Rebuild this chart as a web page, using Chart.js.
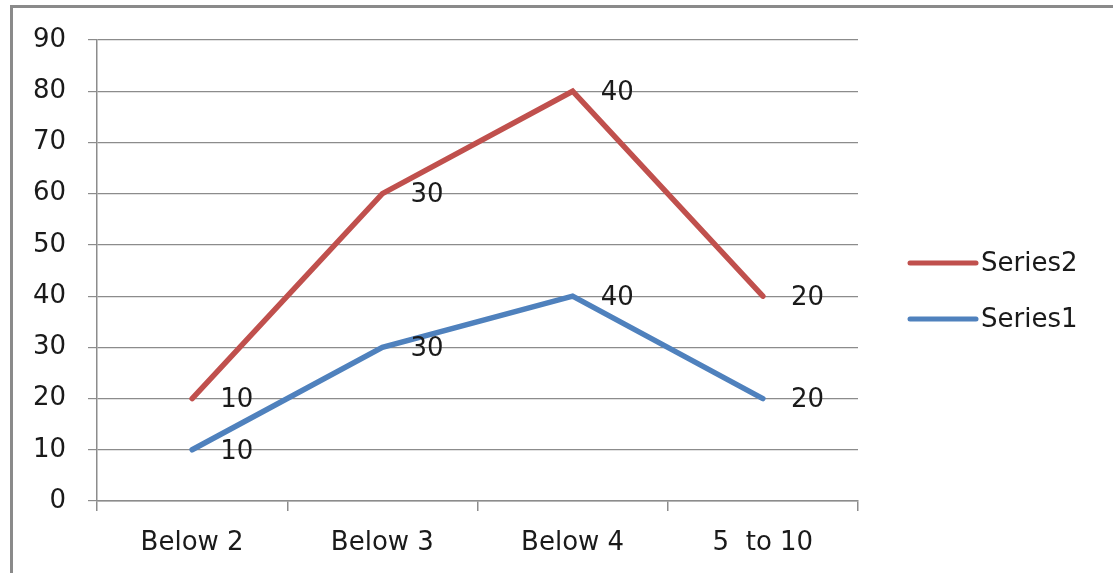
<!DOCTYPE html>
<html>
<head>
<meta charset="utf-8">
<script src="https://cdn.jsdelivr.net/npm/chart.js@4/dist/chart.umd.min.js"></script>
<style>
  html, body { margin: 0; padding: 0; background: #fff; overflow: hidden; }
  #wrap { position: relative; width: 1113px; height: 573px; }
  #frame {
    position: absolute; left: 10px; top: 5px; width: 1100px; height: 600px;
    border-left: 3px solid #8a8a8a; border-top: 3px solid #8a8a8a;
    border-right: 2px solid #d4d4d4; pointer-events: none;
  }
  canvas { position: absolute; left: 0; top: 0; }
</style>
</head>
<body>
<div id="wrap">
  <canvas id="c" width="1113" height="573"></canvas>
  <div id="frame"></div>
</div>
<script>
const categories = ['Below 2', 'Below 3', 'Below 4', '5  to 10'];
const series1 = [10, 30, 40, 20];
const series2 = [10, 30, 40, 20];
const yTicks = [0, 10, 20, 30, 40, 50, 60, 70, 80, 90];

const FONT = 'DejaVu Sans';
const FONT_SIZE = 26;
const GRID = '#8c8c8c';
const TEXT = '#1a1a1a';

// Value labels placed to the right of every point
const pointLabels = {
  id: 'pointLabels',
  afterDatasetsDraw(chart) {
    const ctx = chart.ctx;
    ctx.save();
    ctx.font = FONT_SIZE + 'px "' + FONT + '"';
    ctx.fillStyle = TEXT;
    ctx.textAlign = 'left';
    ctx.textBaseline = 'middle';
    chart.data.datasets.forEach((ds, i) => {
      chart.getDatasetMeta(i).data.forEach((pt, j) => {
        ctx.fillText(String(ds.data[j]), pt.x + 28, pt.y + 2);
      });
    });
    ctx.restore();
  }
};

// Legend on the right: short line sample followed by the series name
const sideLegend = {
  id: 'sideLegend',
  afterDraw(chart) {
    const ctx = chart.ctx;
    const order = [1, 0];
    const rows = [263, 319];
    ctx.save();
    ctx.font = FONT_SIZE + 'px "' + FONT + '"';
    ctx.textAlign = 'left';
    ctx.textBaseline = 'middle';
    order.forEach((idx, r) => {
      const ds = chart.data.datasets[idx];
      const y = rows[r];
      ctx.strokeStyle = ds.borderColor;
      ctx.lineWidth = 5;
      ctx.lineCap = 'round';
      ctx.beginPath();
      ctx.moveTo(910, y);
      ctx.lineTo(976, y);
      ctx.stroke();
      ctx.fillStyle = TEXT;
      ctx.fillText(ds.label, 981, y + 1);
    });
    ctx.restore();
  }
};

new Chart(document.getElementById('c'), {
  type: 'line',
  data: {
    labels: categories,
    datasets: [
      { label: 'Series1', data: series1, borderColor: '#4F81BD', backgroundColor: '#4F81BD' },
      { label: 'Series2', data: series2, borderColor: '#C0504D', backgroundColor: '#C0504D' }
    ]
  },
  options: {
    responsive: false,
    animation: false,
    events: [],
    layout: { padding: { top: 40, right: 255, bottom: 0, left: 0 } },
    elements: {
      line: { borderWidth: 5.5, tension: 0, borderCapStyle: 'round', borderJoinStyle: 'miter', fill: false },
      point: { radius: 0, hoverRadius: 0 }
    },
    plugins: { legend: { display: false }, tooltip: { enabled: false } },
    scales: {
      x: {
        offset: true,
        grid: { offset: true, drawOnChartArea: false, drawTicks: true, tickLength: 10, color: GRID, lineWidth: 1.5 },
        border: { display: true, color: GRID, width: 1.5 },
        ticks: { color: TEXT, font: { family: FONT, size: FONT_SIZE }, padding: 17, maxRotation: 0, autoSkip: false },
        afterFit(s) { s.height = 72; }
      },
      y: {
        stacked: true,
        min: 0,
        max: 90,
        afterBuildTicks(s) { s.ticks = yTicks.map(v => ({ value: v })); },
        grid: { color: GRID, lineWidth: 1.2, drawTicks: true, tickLength: 9 },
        border: { display: true, color: GRID, width: 1.5 },
        ticks: { color: TEXT, font: { family: FONT, size: FONT_SIZE }, padding: 22 },
        afterFit(s) { s.width = 97; }
      }
    }
  },
  plugins: [pointLabels, sideLegend]
});
</script>
</body>
</html>
